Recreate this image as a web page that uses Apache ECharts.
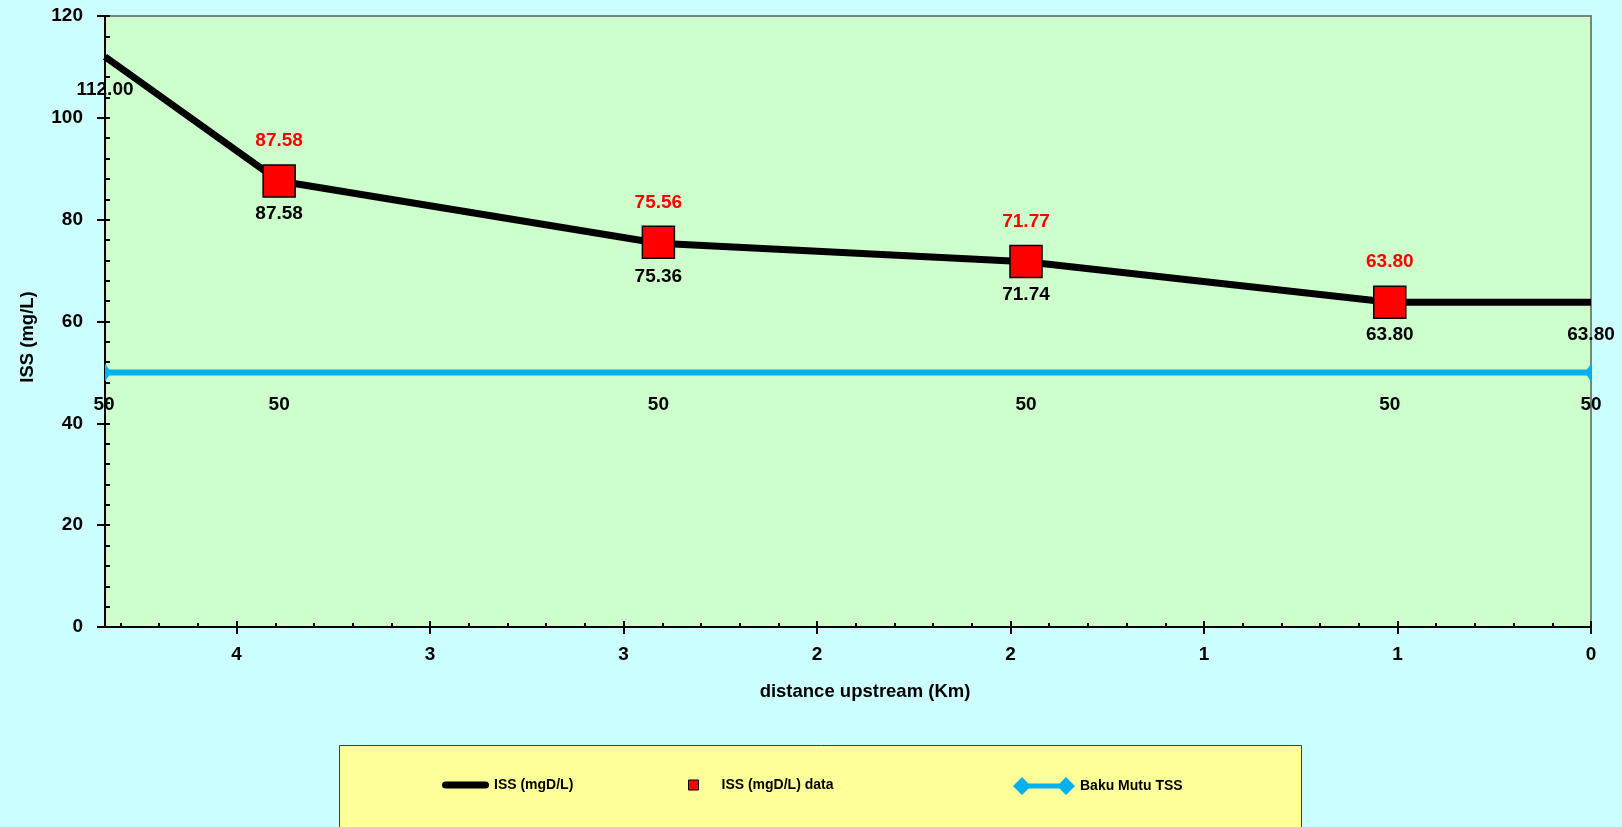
<!DOCTYPE html>
<html>
<head>
<meta charset="utf-8">
<script src="https://cdn.jsdelivr.net/npm/echarts@6/dist/echarts.min.js"></script>
<style>
  html, body { margin: 0; padding: 0; background: #CCFFFF; }
  #chart { width: 1622px; height: 827px; }
</style>
</head>
<body>
<div id="chart"></div>
<script>
// Distance upstream (km) of each station, and the ISS profile along the river
const distance = [3.84, 3.39, 2.41, 1.46, 0.52, 0];
const issLine = [112.00, 87.58, 75.36, 71.74, 63.80, 63.80];

// Measured samples (red squares)
const sampleDistance = [3.39, 2.41, 1.46, 0.52];
const sampleIss = [87.58, 75.56, 71.77, 63.80];

// Quality standard (Baku Mutu TSS)
const bakuMutu = [50, 50, 50, 50, 50, 50];

// Tick labels on the distance axis, for 0, 0.5, 1.0 ... 3.5 km (whole-number format)
const xTickLabels = ['0', '1', '1', '2', '2', '3', '3', '4'];

const FONT = "'Liberation Sans', Arial, sans-serif";
const X_MAX = 3.84;

const chart = echarts.init(document.getElementById('chart'), null, { renderer: 'canvas' });

const pairs = (xs, ys) => xs.map((x, i) => [x, ys[i]]);

// Standard line: half diamonds at both plot edges, plain points in between
const bakuData = pairs(distance, bakuMutu).map((v, i, arr) => {
  if (i === 0) {
    return { value: v, symbol: 'path://M0,0 L1,1 L0,2 Z', symbolSize: [6, 18], symbolOffset: [3, 0],
             label: { offset: [-4, 32] } };
  }
  if (i === arr.length - 1) {
    return { value: v, symbol: 'path://M1,0 L1,2 L0,1 Z', symbolSize: [6, 18], symbolOffset: [-3, 0],
             label: { offset: [3, 32] } };
  }
  return { value: v, symbol: 'circle', symbolSize: 1, itemStyle: { color: 'rgba(0,0,0,0)' } };
});

const xBase = {
  type: 'value', min: 0, max: X_MAX, inverse: true, position: 'bottom',
  splitLine: { show: false }, minorSplitLine: { show: false }
};
const yBase = {
  type: 'value', min: 0, max: 120, interval: 20, position: 'left',
  splitLine: { show: false }, minorSplitLine: { show: false }
};
const blackLine = { color: '#000', width: 2 };

const legendText = { fontFamily: FONT, fontSize: 14, fontWeight: 'bold', color: '#000' };

const option = {
  backgroundColor: '#CCFFFF',
  animation: false,
  grid: {
    left: 105, right: 31, top: 16, bottom: 200,
    show: true, backgroundColor: '#CCFFCC', borderColor: '#808080', borderWidth: 2
  },
  xAxis: [
    Object.assign({}, xBase, {
      interval: 0.1,
      axisLine: { show: true, onZero: false, lineStyle: blackLine },
      axisTick: { show: true, inside: true, length: 4, lineStyle: blackLine },
      axisLabel: { show: false }
    }),
    Object.assign({}, xBase, {
      interval: 0.5,
      axisLine: { show: false, onZero: false },
      axisTick: { show: true, inside: true, length: 6, lineStyle: blackLine },
      axisLabel: { show: false }
    }),
    Object.assign({}, xBase, {
      interval: 0.5,
      axisLine: { show: false, onZero: false },
      axisTick: { show: true, inside: false, length: 7, lineStyle: blackLine },
      axisLabel: {
        show: true, margin: 18, showMaxLabel: false,
        fontFamily: FONT, fontSize: 19, fontWeight: 'bold', color: '#000',
        formatter: v => {
          const k = Math.round(v / 0.5);
          return Math.abs(k * 0.5 - v) < 1e-6 && xTickLabels[k] !== undefined ? xTickLabels[k] : '';
        }
      },
      name: 'distance upstream (Km)',
      nameLocation: 'middle', nameGap: 55,
      nameTextStyle: { fontFamily: FONT, fontSize: 18.5, fontWeight: 'bold', color: '#000', padding: [0, 0, 0, 34] }
    })
  ],
  yAxis: [
    Object.assign({}, yBase, {
      axisLine: { show: true, onZero: false, lineStyle: blackLine },
      axisTick: { show: true, inside: true, length: 5, lineStyle: blackLine },
      minorTick: { show: true, splitNumber: 5, length: 5, lineStyle: blackLine },
      axisLabel: { show: false }
    }),
    Object.assign({}, yBase, {
      axisLine: { show: false, onZero: false },
      axisTick: { show: true, inside: false, length: 8, lineStyle: blackLine },
      axisLabel: { show: true, margin: 22, fontFamily: FONT, fontSize: 19, fontWeight: 'bold', color: '#000' },
      name: 'ISS (mg/L)',
      nameLocation: 'middle', nameGap: 68,
      nameTextStyle: { fontFamily: FONT, fontSize: 18.5, fontWeight: 'bold', color: '#000', padding: [0, 31, 0, 0] }
    })
  ],
  legend: [
    {
      selectedMode: false, left: 442, top: 778, padding: 0,
      itemWidth: 47, itemHeight: 7, textStyle: legendText,
      data: [{
        name: 'ISS (mgD/L)',
        icon: 'path://M3.5,0 L43.5,0 A3.5,3.5 0 0 1 43.5,7 L3.5,7 A3.5,3.5 0 0 1 3.5,0 Z',
        itemStyle: { color: '#000', borderWidth: 0 }
      }]
    },
    {
      selectedMode: false, left: 688, top: 778, padding: 0,
      itemWidth: 10, itemHeight: 10,
      textStyle: Object.assign({}, legendText, { padding: [0, 0, 0, 18] }),
      data: [{
        name: 'ISS (mgD/L) data', icon: 'rect',
        itemStyle: { color: '#FF0000', borderColor: '#000', borderWidth: 1 }
      }]
    },
    {
      selectedMode: false, left: 1013, top: 777, padding: 0,
      itemWidth: 62, itemHeight: 18, textStyle: legendText,
      data: [{
        name: 'Baku Mutu TSS',
        icon: 'path://M0,9 L9,0 L18,9 L9,18 Z M9,6.5 L53,6.5 L53,11.5 L9,11.5 Z M44,9 L53,0 L62,9 L53,18 Z',
        itemStyle: { color: '#00B0F0', borderWidth: 0 }
      }]
    }
  ],
  graphic: [{
    type: 'rect', z: 0,
    shape: { x: 339.5, y: 745.5, width: 962, height: 120 },
    style: { fill: '#FFFF99', stroke: '#404040', lineWidth: 1 }
  }],
  series: [
    {
      name: 'Baku Mutu TSS', type: 'line', z: 2,
      xAxisIndex: 0, yAxisIndex: 0,
      data: bakuData,
      showSymbol: true,
      itemStyle: { color: '#00B0F0' },
      lineStyle: { color: '#00B0F0', width: 6 },
      label: {
        show: true, position: 'inside', offset: [0, 32],
        fontFamily: FONT, fontSize: 19, fontWeight: 'bold', color: '#000',
        formatter: p => String(p.value[1])
      },
      emphasis: { disabled: true }
    },
    {
      name: 'ISS (mgD/L)', type: 'line', z: 3,
      xAxisIndex: 0, yAxisIndex: 0,
      data: pairs(distance, issLine),
      symbol: 'circle', symbolSize: 1, showSymbol: true,
      itemStyle: { color: 'rgba(0,0,0,0)' },
      lineStyle: { color: '#000', width: 7 },
      label: {
        show: true, position: 'inside', offset: [0, 33],
        fontFamily: FONT, fontSize: 19, fontWeight: 'bold', color: '#000',
        formatter: p => p.value[1].toFixed(2)
      },
      emphasis: { disabled: true }
    },
    {
      name: 'ISS (mgD/L) data', type: 'scatter', z: 4,
      xAxisIndex: 0, yAxisIndex: 0,
      data: pairs(sampleDistance, sampleIss),
      symbol: 'rect', symbolSize: 32,
      itemStyle: { color: '#FF0000', borderColor: '#000', borderWidth: 1.5, opacity: 1 },
      label: {
        show: true, position: 'inside', offset: [0, -40],
        fontFamily: FONT, fontSize: 19, fontWeight: 'bold', color: '#FF0000',
        formatter: p => p.value[1].toFixed(2)
      },
      emphasis: { disabled: true }
    }
  ]
};

chart.setOption(option);
</script>
</body>
</html>
